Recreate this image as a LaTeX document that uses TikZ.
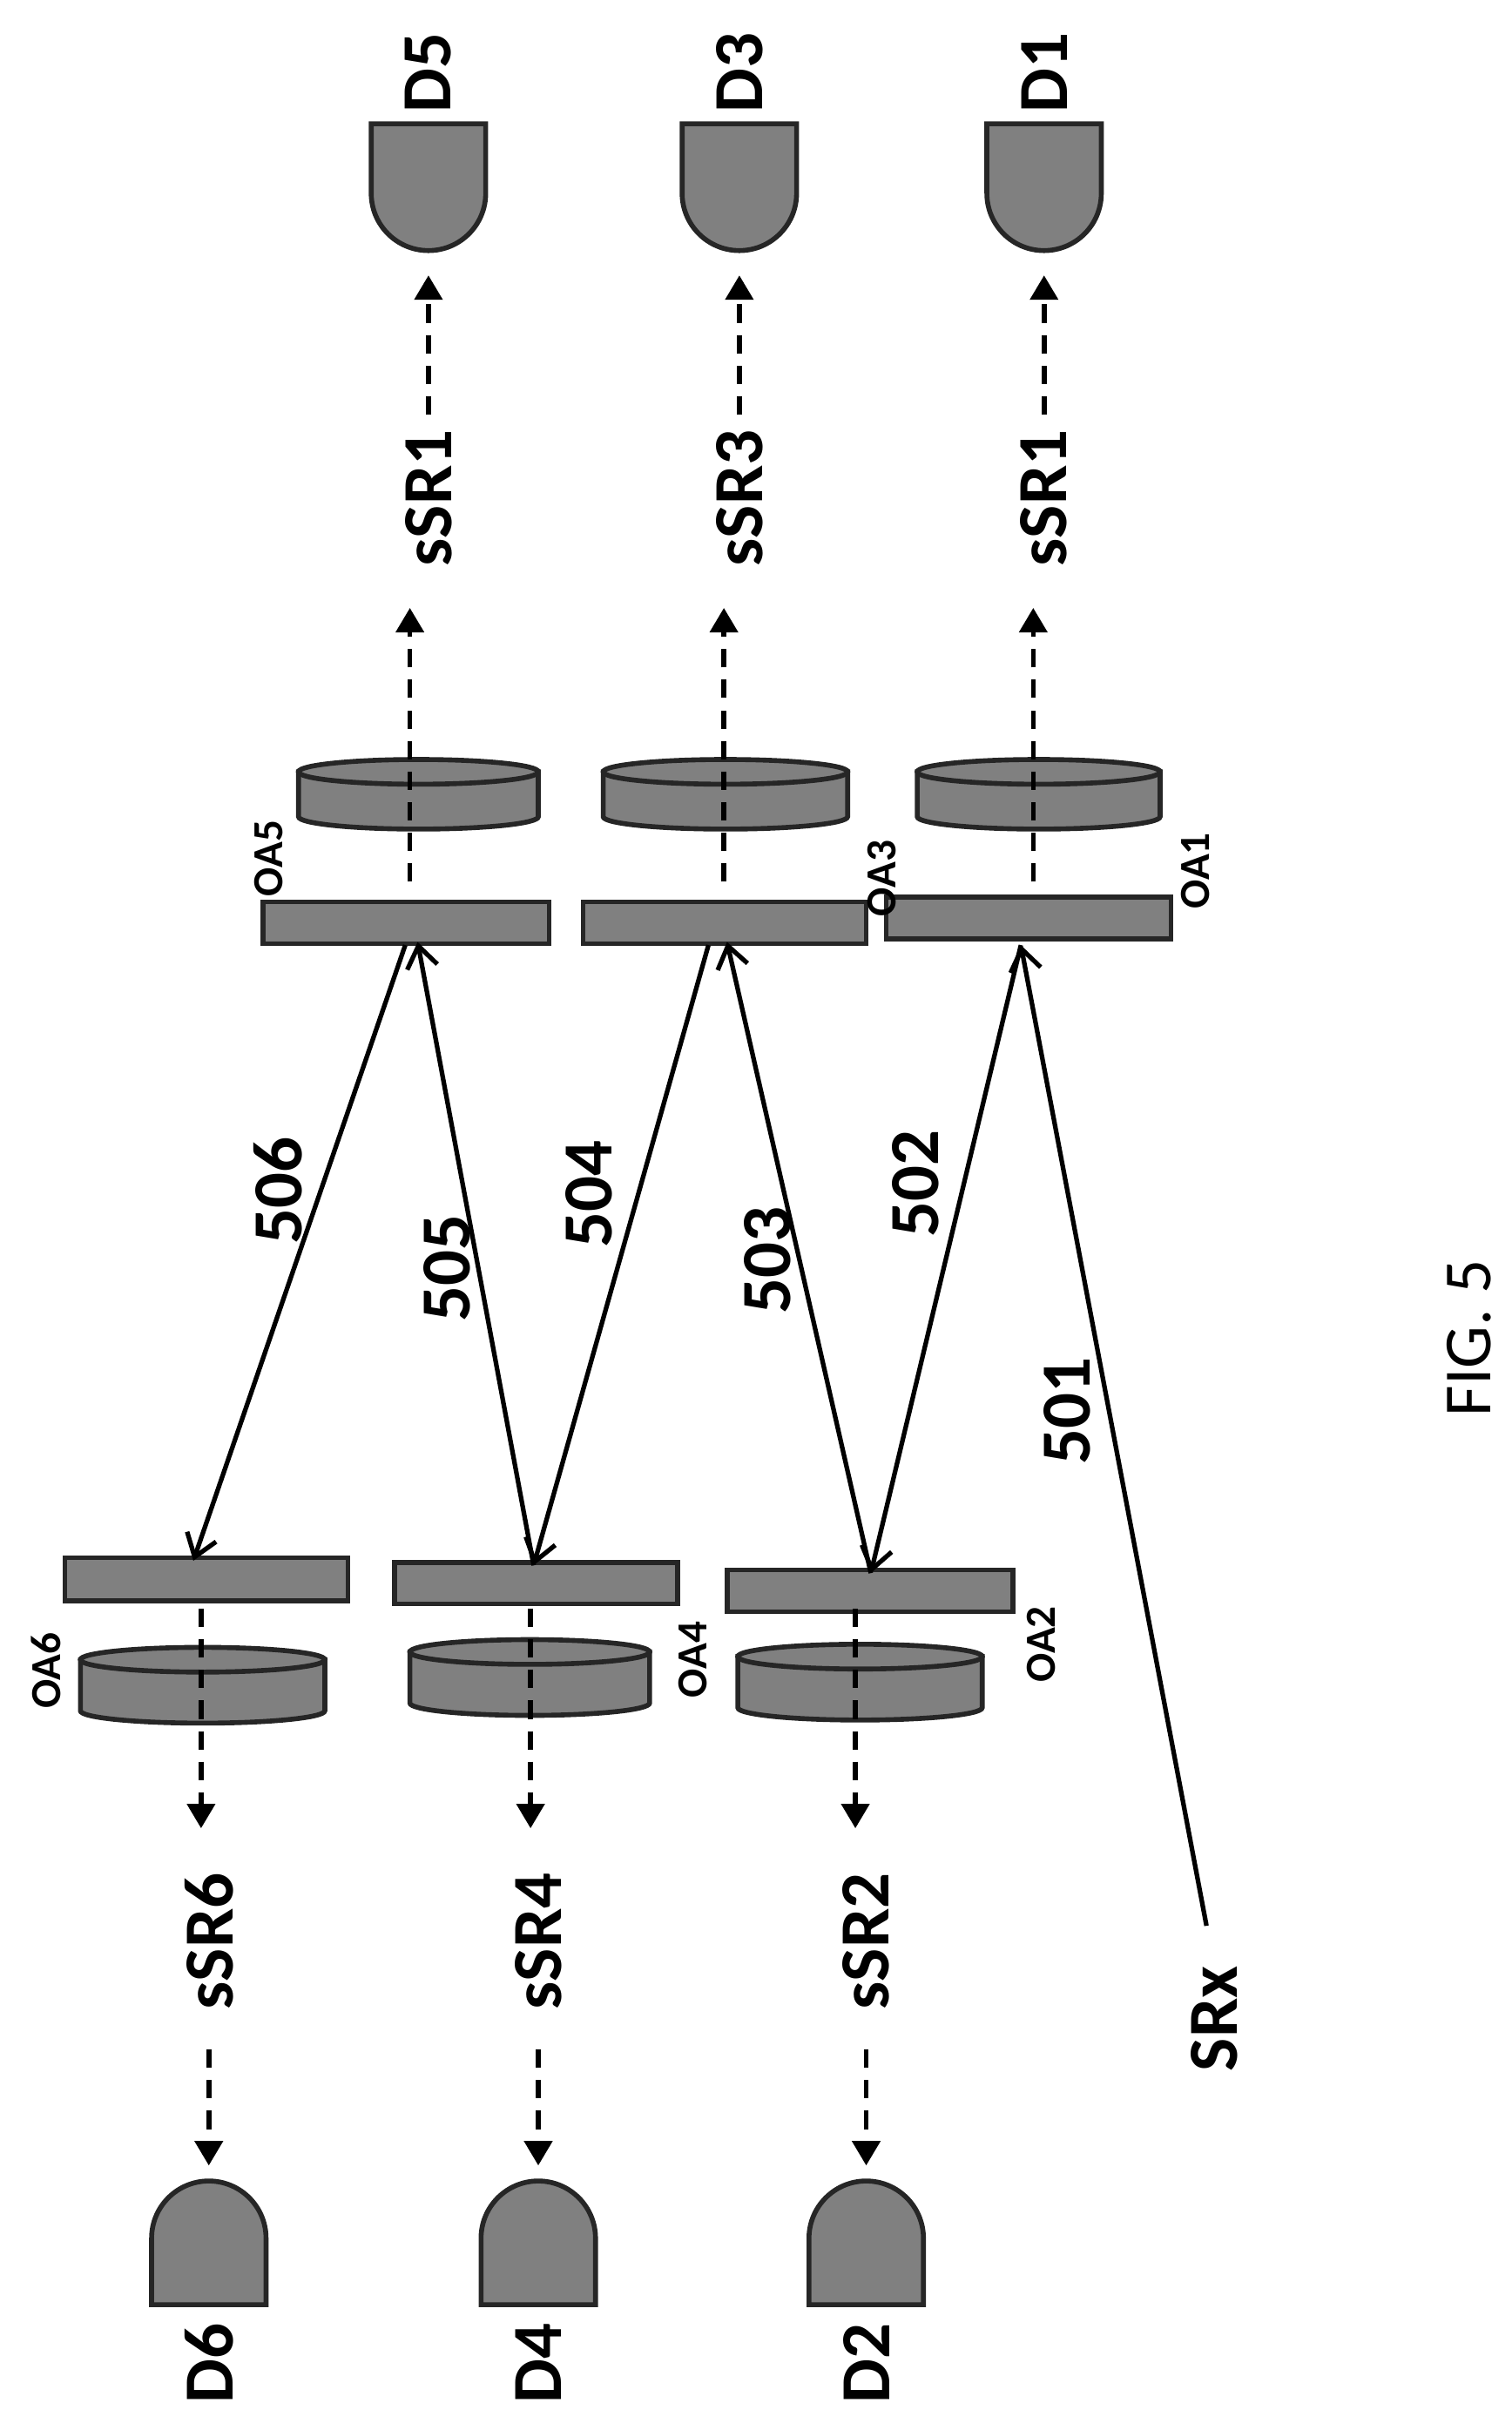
\documentclass[tikz,border=0pt]{standalone}
\usepackage{fontspec}
\setmainfont{Carlito}
\usetikzlibrary{arrows.meta}
\begin{document}
\begin{tikzpicture}[x=0.01776cm,y=-0.01776cm,
 part/.style={draw=black!85,fill=black!50,line width=1.6pt},
 beam/.style={line width=1.5pt,-{Straight Barb[length=7pt,width=10pt,line width=1.5pt]}},
 sig/.style={line width=1.6pt,dash pattern=on 6pt off 4pt,-{Triangle[length=8pt,width=9pt]}},
 lab/.style={font=\bfseries\fontsize{23}{25}\selectfont,rotate=90},
 oal/.style={font=\bfseries\fontsize{14}{16}\selectfont,rotate=90}]
\useasboundingbox (0,0) rectangle (977,1571);
% detectors
\foreach \x/\n in {277/D5,478/D3,675/D1}{
 \draw[part] (\x-37,80) -- (\x+37,80) -- (\x+37,125) arc[start angle=0,end angle=180,radius=37] -- cycle;
 \node[lab] at (\x,47) {\n};}
\foreach \x/\n in {135/D6,348/D4,560/D2}{
 \draw[part] (\x-37,1490) -- (\x+37,1490) -- (\x+37,1447) arc[start angle=0,end angle=-180,radius=37] -- cycle;
 \node[lab] at (\x,1528) {\n};}
% lenses
\foreach \l/\r in {193/348,390/548,593/750}{
 \draw[part] (\l,499) -- (\l,528) arc[start angle=180,end angle=0,x radius={(\r-\l)/2},y radius=8] -- (\r,499) -- cycle;
 \draw[part] ({(\l+\r)/2},499) ellipse[x radius={(\r-\l)/2},y radius=8];}
\foreach \l/\r/\y in {52/210/1073,265/420/1068,477/635/1071}{
 \draw[part] (\l,\y) -- (\l,\y+33) arc[start angle=180,end angle=0,x radius={(\r-\l)/2},y radius=8] -- (\r,\y) -- cycle;
 \draw[part] ({(\l+\r)/2},\y) ellipse[x radius={(\r-\l)/2},y radius=8];}
% splitters
\draw[part] (170,583) rectangle (355,610);
\draw[part] (377,583) rectangle (560,610);
\draw[part] (573,580) rectangle (757,607);
\draw[part] (42,1007) rectangle (225,1035);
\draw[part] (255,1010) rectangle (438,1037);
\draw[part] (470,1015) rectangle (655,1042);
\node[oal] at (174,555) {OA5};
\node[oal] at (570,568) {OA3};
\node[oal] at (773,563) {OA1};
\node[oal] at (30,1080) {OA6};
\node[oal] at (448,1073) {OA4};
\node[oal] at (673,1063) {OA2};
% beams
\coordinate (s) at (780,1245);
\coordinate (p1) at (660,611);
\coordinate (p2) at (563,1017);
\coordinate (p3) at (470,609);
\coordinate (p3b) at (458,611);
\coordinate (p4) at (345,1012);
\coordinate (p5) at (270,609);
\coordinate (p5b) at (262,611);
\coordinate (p6) at (125,1009);
\draw[beam] (s) -- (p1);
\draw[beam] (p1) -- (p2);
\draw[beam] (p2) -- (p3);
\draw[beam] (p3b) -- (p4);
\draw[beam] (p4) -- (p5);
\draw[beam] (p5b) -- (p6);
\node[lab] at (785,1305) {SRx};
\node[lab] at (690,912) {501};
\node[lab] at (592,765) {502};
\node[lab] at (496,815) {503};
\node[lab] at (381,772) {504};
\node[lab] at (289,820) {505};
\node[lab] at (180,770) {506};
% signals
\foreach \x/\xb/\n in {265/277/sSR1,468/478/sSR3,668/675/sSR1}{
 \coordinate (a\n\x) at (\x,570); \coordinate (b\n\x) at (\x,393);
 \draw[sig] (a\n\x) -- (b\n\x);
 \node[lab] at (\xb,322) {\n};
 \coordinate (c\n\x) at (\xb,268); \coordinate (d\n\x) at (\xb,178);
 \draw[sig] (c\n\x) -- (d\n\x);}
\foreach \x/\xb/\n in {130/135/sSR6,343/348/sSR4,553/560/sSR2}{
 \coordinate (a\n) at (\x,1040); \coordinate (b\n) at (\x,1182);
 \draw[sig] (a\n) -- (b\n);
 \node[lab] at (\xb,1255) {\n};
 \coordinate (c\n) at (\xb,1325); \coordinate (d\n) at (\xb,1400);
 \draw[sig] (c\n) -- (d\n);}
\node[font=\fontsize{22}{24}\selectfont,rotate=90] at (950,865) {FIG. 5};
\end{tikzpicture}
\end{document}
